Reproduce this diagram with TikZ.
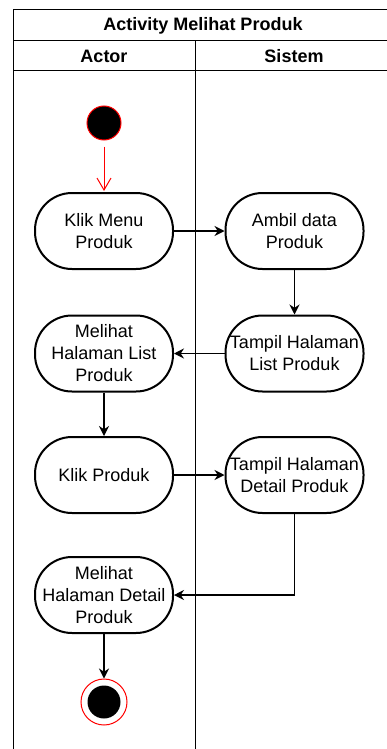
\documentclass[tikz,border=0pt]{standalone}
\usepackage{fontspec}
\setmainfont{Liberation Sans}
\usetikzlibrary{arrows.meta}
\begin{document}
\begin{tikzpicture}[x=1pt,y=-1pt,
  act/.style={draw=black, line width=2pt, rounded corners=37pt, minimum width=138pt, minimum height=76pt, inner sep=0pt, align=center, font=\fontsize{18}{22}\selectfont},
  flow/.style={draw=black, line width=1.3pt, -{Stealth[length=10pt,width=10pt]}},
  lane/.style={draw=black, line width=1pt},
  hdr/.style={font=\bfseries\fontsize{18}{22}\selectfont}
]
\useasboundingbox (0,0) rectangle (386,749);
% swimlane frame
\draw[lane] (13,760) -- (13,10) -- (400,10);
\draw[lane] (13,41) -- (400,41);
\draw[lane] (13,71) -- (400,71);
\draw[lane] (195,41) -- (195,760);
\node[hdr] (title) at (203,25.5) {Activity Melihat Produk};
\node[hdr] (actor) at (104,56) {Actor};
\node[hdr] (sistem) at (294,56) {Sistem};
% start
\node[circle, fill=black, draw=red, line width=1pt, minimum size=34pt, inner sep=0pt] (start) at (104,123) {};
% activities
\node[act] (klikmenu) at (104,231) {Klik Menu\\Produk};
\node[act] (ambil) at (294.5,231) {Ambil data\\Produk};
\node[act] (tampillist) at (294.5,353.5) {Tampil Halaman\\List Produk};
\node[act] (lihatlist) at (104,353.5) {Melihat\\Halaman List\\Produk};
\node[act] (klikproduk) at (104,475) {Klik Produk};
\node[act] (tampildetail) at (294.5,475) {Tampil Halaman\\Detail Produk};
\node[act] (lihatdetail) at (104,595) {Melihat\\Halaman Detail\\Produk};
% end
\node[circle, fill=white, draw=red, line width=1pt, minimum size=46pt, inner sep=0pt] (end) at (104,702) {};
\node[circle, fill=black, minimum size=33pt, inner sep=0pt] (endin) at (end.center) {};
% flows
\draw[draw=red, line width=1pt, shorten <=6pt, -{Straight Barb[length=12pt,width=14pt]}] (start) -- ([yshift=1pt]klikmenu.north);
\draw[flow] (klikmenu) -- (ambil);
\draw[flow] (ambil) -- (tampillist);
\draw[flow] (tampillist) -- (lihatlist);
\draw[flow] (lihatlist) -- (klikproduk);
\draw[flow] (klikproduk) -- (tampildetail);
\draw[flow] (tampildetail.south) |- (lihatdetail.east);
\draw[flow] (lihatdetail) -- (end);
\end{tikzpicture}
\end{document}
